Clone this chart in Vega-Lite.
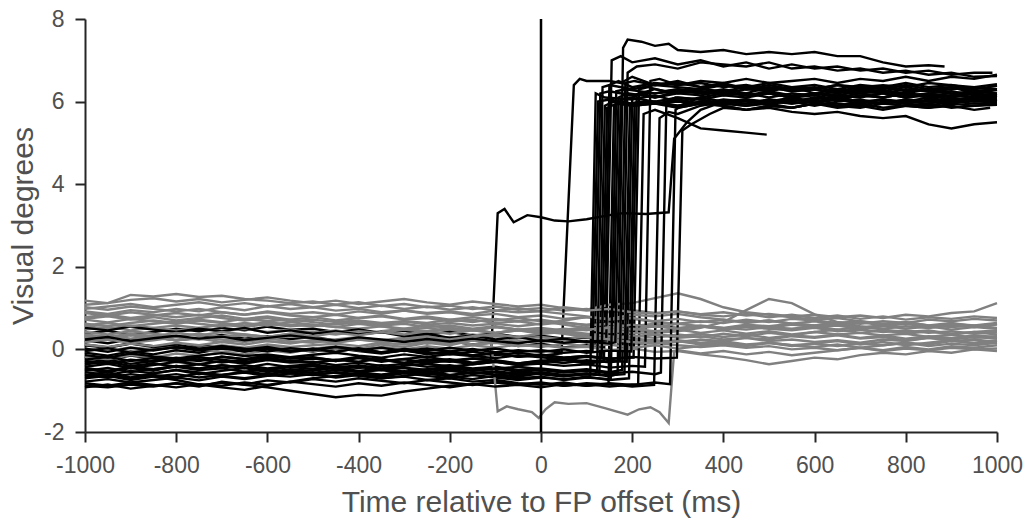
{
"$schema":"https://vega.github.io/schema/vega-lite/v6.json",
"width":912,"height":413,
"autosize":"none",
"padding":{"left":85,"top":19,"right":31,"bottom":87},
"background":"white",
"config":{"view":{"stroke":null},"font":"Liberation Sans",
"axis":{"grid":false,"domainColor":"#262626","domainWidth":2,"tickColor":"#262626","tickWidth":2,"tickSize":10,"labelFontSize":23,"labelColor":"#505050","titleFontSize":30,"titleFontWeight":"normal","titleColor":"#505050","labelFlush":false,"labelOverlap":false,"labelBound":false,"labelExpr":"toString(datum.value)"}},
"datasets":{"tr":[
{"s":"b1","c":"b","t":[-1000,-950,-900,-850,-800,-750,-700,-650,-600,-550,-500,-450,-400,-350,-300,-250,-200,-150,-110,-95,-80,-60,-30,0,30,60,100,150,180,230,280,292,320,350,400,450,500,550,600,650,700,750,800,850,900,950,1000],"v":[-0.32,-0.25,-0.35,-0.28,-0.20,-0.27,-0.18,-0.24,-0.15,-0.22,-0.19,-0.28,-0.21,-0.30,-0.23,-0.18,-0.27,-0.22,-0.25,3.3,3.4,3.08,3.25,3.2,3.12,3.1,3.15,3.25,3.3,3.28,3.32,5.1,5.5,5.8,6.0,5.95,6.05,6.0,6.1,6.05,6.15,6.1,6.2,6.1,6.15,6.2,6.1]},
{"s":"g1","c":"g","t":[-1000,-950,-900,-850,-800,-750,-700,-650,-600,-550,-500,-450,-400,-350,-300,-250,-200,-150,-100,-50,0,50,100,150,200,250,300,350,400,450,500,550,600,650,700,750,800,850,900,950,1000],"v":[1.08,1.12,1.32,1.28,1.34,1.27,1.30,1.22,1.18,1.12,1.16,1.08,1.14,1.05,1.10,1.02,1.06,0.98,1.04,0.96,1.00,0.94,0.98,0.90,0.95,0.88,0.92,0.85,0.90,0.82,0.86,0.80,0.84,0.78,0.82,0.76,0.84,0.80,0.88,0.92,1.12]},
{"s":"b2","c":"b","t":[-1000,-950,-900,-850,-800,-750,-700,-650,-600,-550,-500,-450,-400,-350,-300,-250,-200,-150,-100,-50,0,45,72,85,100,150,175,200,250,300,350,400,450,500,550,600,650,700,750,800,850,900,950,1000],"v":[0.12,0.05,0.15,0.08,0.02,0.10,0.04,-0.02,0.06,0.0,-0.05,0.03,-0.04,-0.10,-0.02,-0.08,-0.12,-0.05,-0.14,-0.08,-0.15,-0.1,6.4,6.55,6.5,6.5,6.45,6.6,6.4,6.5,6.35,6.45,6.3,6.4,6.3,6.35,6.25,6.35,6.3,6.4,6.3,6.35,6.25,6.3]},
{"s":"g2","c":"g","t":[-1000,-950,-900,-850,-800,-750,-700,-650,-600,-550,-500,-450,-400,-350,-300,-250,-200,-150,-100,-50,0,50,100,150,200,250,300,350,400,450,500,550,600,650,700,750,800,850,900,950,1000],"v":[0.92,0.86,0.95,0.90,0.98,0.92,1.02,0.95,1.05,0.98,1.02,0.94,0.98,0.90,0.94,0.86,0.90,0.82,0.86,0.78,0.82,0.74,0.78,0.70,0.74,0.66,0.62,0.68,0.64,0.72,0.66,0.74,0.70,0.64,0.68,0.60,0.66,0.58,0.64,0.56,0.62]},
{"s":"b3","c":"b","t":[-1000,-950,-900,-850,-800,-750,-700,-650,-600,-550,-500,-450,-400,-350,-300,-250,-200,-150,-100,-50,0,50,100,150,168,180,190,220,250,280,300,350,400,450,500,550,600,650,700,750,800,850,885],"v":[-0.48,-0.55,-0.45,-0.52,-0.40,-0.47,-0.38,-0.45,-0.35,-0.43,-0.40,-0.48,-0.42,-0.50,-0.45,-0.55,-0.48,-0.58,-0.52,-0.60,-0.55,-0.62,-0.58,-0.65,-0.6,7.3,7.5,7.45,7.35,7.4,7.25,7.2,7.25,7.15,7.2,7.15,7.2,7.1,7.1,6.95,6.85,6.88,6.85]},
{"s":"g3","c":"g","t":[-1000,-950,-900,-850,-800,-750,-700,-650,-600,-550,-500,-450,-400,-350,-300,-250,-200,-150,-100,-50,0,50,100,150,200,250,300,350,400,450,500,550,600,650,700,750,800,850,900,950,1000],"v":[0.72,0.65,0.74,0.68,0.62,0.70,0.64,0.58,0.66,0.60,0.56,0.62,0.66,0.60,0.68,0.64,0.72,0.66,0.74,0.68,0.72,0.64,0.60,0.66,0.56,0.62,0.52,0.56,0.48,0.54,0.50,0.46,0.52,0.44,0.48,0.42,0.46,0.40,0.44,0.38,0.42]},
{"s":"b4","c":"b","t":[-1000,-950,-900,-850,-800,-750,-700,-650,-600,-550,-500,-450,-400,-350,-300,-250,-200,-150,-100,-50,0,50,100,118,130,150,200,250,300,350,400,450,500,550,600,650,700,750,800,850,900,950,1000],"v":[0.22,0.15,0.25,0.30,0.22,0.28,0.35,0.26,0.32,0.25,0.30,0.22,0.27,0.18,0.24,0.15,0.20,0.12,0.18,0.08,0.14,0.05,0.10,0.06,6.2,6.25,6.15,6.3,6.2,6.25,6.15,6.2,6.1,6.2,6.15,6.25,6.2,6.1,6.2,6.15,6.2,6.1,6.18]},
{"s":"g4","c":"g","t":[-1000,-950,-900,-850,-800,-750,-700,-650,-600,-550,-500,-450,-400,-350,-300,-250,-200,-150,-100,-50,0,50,100,150,200,250,300,350,400,450,500,550,600,650,700,750,800,850,900,950,1000],"v":[0.48,0.54,0.46,0.52,0.58,0.52,0.60,0.54,0.62,0.56,0.60,0.54,0.50,0.56,0.48,0.52,0.44,0.48,0.40,0.46,0.38,0.42,0.34,0.38,0.30,0.36,0.28,0.32,0.24,0.28,0.20,0.24,0.18,0.22,0.16,0.24,0.20,0.28,0.24,0.30,0.26]},
{"s":"b5","c":"b","t":[-1000,-950,-900,-850,-800,-750,-700,-650,-600,-550,-500,-450,-400,-350,-300,-250,-200,-150,-100,-50,0,50,100,128,140,160,200,250,300,350,400,450,500,550,600,650,700,750,800,850,900,950,1000],"v":[-0.62,-0.55,-0.68,-0.58,-0.50,-0.60,-0.52,-0.45,-0.55,-0.48,-0.52,-0.44,-0.55,-0.50,-0.58,-0.52,-0.62,-0.55,-0.60,-0.66,-0.58,-0.64,-0.60,-0.62,5.9,6.0,5.9,5.95,5.85,5.95,5.9,5.8,5.9,5.85,5.95,5.9,5.85,5.95,5.9,5.85,5.95,5.9,5.95]},
{"s":"g5","c":"g","t":[-1000,-950,-900,-850,-800,-750,-700,-650,-600,-550,-500,-450,-400,-350,-300,-250,-200,-150,-100,-50,0,50,100,150,200,250,300,350,400,450,500,550,600,650,700,750,800,850,900,950,1000],"v":[0.28,0.34,0.26,0.30,0.22,0.26,0.18,0.24,0.20,0.16,0.22,0.18,0.24,0.20,0.28,0.22,0.30,0.26,0.32,0.28,0.30,0.24,0.28,0.20,0.24,0.18,0.22,0.16,0.20,0.12,0.16,0.10,0.14,0.08,0.14,0.10,0.16,0.12,0.20,0.16,0.22]},
{"s":"b6","c":"b","t":[-1000,-950,-900,-850,-800,-750,-700,-650,-600,-550,-500,-450,-400,-350,-300,-250,-200,-150,-100,-50,0,50,100,138,150,170,200,250,300,350,400,450,500,550,600,650,700,750,800,850,900,950,1000],"v":[-0.18,-0.25,-0.15,-0.22,-0.30,-0.24,-0.32,-0.26,-0.20,-0.28,-0.33,-0.25,-0.30,-0.22,-0.35,-0.28,-0.24,-0.32,-0.26,-0.34,-0.28,-0.22,-0.30,-0.26,6.4,6.5,6.35,6.45,6.4,6.5,6.45,6.55,6.45,6.5,6.55,6.45,6.55,6.5,6.6,6.5,6.6,6.55,6.65]},
{"s":"g6","c":"g","t":[-1000,-950,-900,-850,-800,-750,-700,-650,-600,-550,-500,-450,-400,-350,-300,-250,-200,-150,-100,-50,0,50,100,150,200,250,300,350,400,450,500,550,600,650,700,750,800,850,900,950,1000],"v":[0.02,-0.04,0.05,0.0,0.08,0.03,0.10,0.04,0.12,0.06,0.10,0.14,0.08,0.16,0.12,0.18,0.14,0.22,0.16,0.20,0.18,0.24,0.16,0.20,0.12,0.16,0.10,0.06,0.10,0.04,0.08,0.0,0.04,-0.02,0.04,-0.04,0.02,-0.02,0.04,0.0,0.02]},
{"s":"b7","c":"b","t":[-1000,-950,-900,-850,-800,-750,-700,-650,-600,-550,-500,-450,-400,-350,-300,-250,-200,-150,-100,-50,0,50,100,148,160,180,200,250,300,350,400,450,500,550,600,650,700,750,800,850,900,950,1000],"v":[-0.92,-0.85,-0.95,-0.88,-0.82,-0.90,-0.78,-0.85,-0.75,-0.80,-0.72,-0.78,-0.70,-0.76,-0.82,-0.74,-0.80,-0.86,-0.78,-0.84,-0.80,-0.88,-0.82,-0.85,5.9,6.0,5.9,6.0,5.85,5.95,5.9,5.8,5.85,5.75,5.7,5.75,5.65,5.6,5.65,5.45,5.35,5.45,5.5]},
{"s":"g7","c":"g","t":[-1000,-950,-900,-850,-800,-750,-700,-650,-600,-550,-500,-450,-400,-350,-300,-250,-200,-150,-100,-50,0,50,100,150,200,250,300,350,400,450,500,550,600,650,700,750,800,850,900,950,1000],"v":[0.78,0.84,0.76,0.82,0.88,0.82,0.90,0.84,0.92,0.86,0.90,0.84,0.92,0.86,0.94,0.88,0.92,0.86,0.94,0.90,0.92,1.02,0.96,1.08,1.12,1.24,1.36,1.22,1.02,0.90,0.84,0.78,0.72,0.76,0.68,0.62,0.66,0.58,0.54,0.58,0.52]},
{"s":"b8","c":"b","t":[-1000,-950,-900,-850,-800,-750,-700,-650,-600,-550,-500,-450,-400,-350,-300,-250,-200,-150,-100,-50,0,50,100,150,158,170,190,250,300,350,400,450,500,550,600,650,700,750,800,850,900,950,1000],"v":[0.38,0.45,0.35,0.42,0.50,0.44,0.52,0.46,0.55,0.48,0.50,0.42,0.48,0.40,0.45,0.36,0.42,0.34,0.38,0.30,0.33,0.26,0.30,0.25,0.28,6.1,6.2,6.1,6.2,6.15,6.25,6.15,6.2,6.1,6.2,6.15,6.25,6.2,6.1,6.2,6.25,6.15,6.2]},
{"s":"g8","c":"g","t":[-1000,-950,-900,-850,-800,-750,-700,-650,-600,-550,-500,-450,-400,-350,-300,-250,-200,-150,-100,-50,0,50,100,150,200,250,300,350,400,450,500,550,600,650,700,750,800,850,900,950,1000],"v":[0.62,0.56,0.64,0.70,0.64,0.72,0.66,0.74,0.68,0.72,0.66,0.60,0.66,0.58,0.62,0.54,0.58,0.50,0.56,0.48,0.52,0.46,0.50,0.42,0.46,0.40,0.44,0.52,0.66,0.95,1.22,1.12,0.85,0.66,0.56,0.48,0.42,0.46,0.38,0.42,0.36]},
{"s":"b9","c":"b","t":[-1000,-950,-900,-850,-800,-750,-700,-650,-600,-550,-500,-450,-400,-350,-300,-250,-200,-150,-100,-50,0,50,100,150,178,190,210,250,300,350,400,450,500,550,600,650,700,750,800,850,900,950,1000],"v":[-0.42,-0.35,-0.45,-0.38,-0.30,-0.36,-0.28,-0.34,-0.26,-0.32,-0.30,-0.38,-0.32,-0.40,-0.35,-0.42,-0.38,-0.46,-0.42,-0.50,-0.46,-0.52,-0.48,-0.55,-0.5,6.7,6.85,6.9,6.8,6.95,6.9,6.85,6.95,6.8,6.85,6.75,6.8,6.7,6.75,6.65,6.7,6.6,6.62]},
{"s":"g9","c":"g","t":[-1000,-950,-900,-850,-800,-750,-700,-650,-600,-550,-500,-450,-400,-350,-300,-250,-200,-150,-100,-50,0,50,100,150,200,250,300,350,400,450,500,550,600,650,700,750,800,850,900,950,1000],"v":[1.02,0.96,1.04,0.98,0.92,0.98,0.90,0.84,0.90,0.82,0.78,0.84,0.76,0.80,0.72,0.76,0.68,0.72,0.64,0.68,0.60,0.66,0.58,0.62,0.54,0.58,0.50,0.56,0.52,0.60,0.56,0.62,0.58,0.66,0.62,0.68,0.64,0.72,0.68,0.74,0.70]},
{"s":"b10","c":"b","t":[-1000,-950,-900,-850,-800,-750,-700,-650,-600,-550,-500,-450,-400,-350,-300,-250,-200,-150,-100,-50,0,50,100,150,193,205,225,250,300,350,400,450,500,550,600,650,700,750,800,850,900,950,1000],"v":[-0.70,-0.64,-0.74,-0.66,-0.60,-0.68,-0.62,-0.56,-0.64,-0.58,-0.62,-0.55,-0.60,-0.66,-0.58,-0.64,-0.70,-0.62,-0.68,-0.74,-0.68,-0.72,-0.66,-0.74,-0.7,5.9,6.0,5.95,6.05,5.95,6.0,6.05,5.95,6.0,5.9,6.0,6.05,5.95,6.0,5.95,6.05,6.0,6.02]},
{"s":"g10","c":"g","t":[-1000,-950,-900,-850,-800,-750,-700,-650,-600,-550,-500,-450,-400,-350,-300,-250,-200,-150,-100,-50,0,50,100,150,200,250,300,350,400,450,500,550,600,650,700,750,800,850,900,950,1000],"v":[0.18,0.24,0.16,0.22,0.30,0.24,0.32,0.36,0.30,0.38,0.42,0.36,0.44,0.40,0.48,0.42,0.50,0.46,0.54,0.48,0.50,0.44,0.38,0.32,0.26,0.22,0.18,0.24,0.20,0.28,0.24,0.32,0.28,0.34,0.26,0.30,0.22,0.28,0.20,0.24,0.18]},
{"s":"b11","c":"b","t":[-1000,-950,-900,-850,-800,-750,-700,-650,-600,-550,-500,-450,-400,-350,-300,-250,-200,-150,-100,-50,0,50,100,150,203,215,235,270,300,350,400,450,500,550,600,650,700,750,800,850,900,950,1000],"v":[-0.08,-0.15,-0.05,-0.12,-0.02,-0.08,0.02,-0.05,0.04,-0.03,0.0,-0.06,0.03,-0.08,-0.02,-0.12,-0.06,-0.15,-0.10,-0.18,-0.14,-0.20,-0.16,-0.22,-0.2,6.3,6.35,6.25,6.3,6.2,6.25,6.15,6.2,6.1,6.2,6.15,6.1,6.2,6.1,6.15,6.05,6.1,6.08]},
{"s":"g11","c":"g","t":[-1000,-950,-900,-850,-800,-750,-700,-650,-600,-550,-500,-450,-400,-350,-300,-250,-200,-150,-100,-50,0,50,100,150,200,250,300,350,400,450,500,550,600,650,700,750,800,850,900,950,1000],"v":[0.42,0.36,0.44,0.38,0.32,0.38,0.30,0.34,0.26,0.32,0.28,0.22,0.28,0.20,0.24,0.16,0.20,0.12,0.16,0.08,0.10,0.04,0.06,-0.02,0.02,-0.06,-0.04,-0.12,-0.18,-0.26,-0.36,-0.28,-0.20,-0.24,-0.14,-0.08,-0.12,-0.04,-0.08,0.0,-0.04]},
{"s":"b12","c":"b","t":[-1000,-950,-900,-850,-800,-750,-700,-650,-600,-550,-500,-450,-400,-350,-300,-250,-200,-150,-100,-50,0,50,100,150,200,213,225,250,300,350,400,450,495],"v":[-0.88,-0.92,-0.85,-0.90,-0.82,-0.88,-0.80,-0.86,-0.92,-1.0,-1.08,-1.16,-1.1,-1.12,-1.02,-0.95,-0.88,-0.84,-0.80,-0.86,-0.82,-0.88,-0.84,-0.90,-0.85,-0.86,5.7,5.8,5.6,5.35,5.3,5.25,5.2]},
{"s":"g12","c":"g","t":[-1000,-950,-900,-850,-800,-750,-700,-650,-600,-550,-500,-450,-400,-350,-300,-250,-200,-150,-100,-50,0,50,100,150,200,250,300,350,400,450,500,550,600,650,700,750,800,850,900,950,1000],"v":[-0.18,-0.24,-0.14,-0.20,-0.10,-0.16,-0.06,-0.12,-0.02,-0.08,0.02,0.08,0.02,0.12,0.06,0.16,0.10,0.22,0.16,0.26,0.30,0.24,0.32,0.26,0.34,0.28,0.36,0.30,0.38,0.32,0.40,0.34,0.42,0.36,0.40,0.34,0.38,0.30,0.36,0.28,0.32]},
{"s":"b13","c":"b","t":[-1000,-950,-900,-850,-800,-750,-700,-650,-600,-550,-500,-450,-400,-350,-300,-250,-200,-150,-100,-50,0,50,100,150,200,228,240,260,300,350,400,450,500,550,600,650,700,750,800,850,900,950,1000],"v":[-0.28,-0.34,-0.25,-0.30,-0.22,-0.28,-0.18,-0.24,-0.16,-0.22,-0.20,-0.26,-0.18,-0.28,-0.24,-0.32,-0.28,-0.36,-0.30,-0.38,-0.34,-0.40,-0.36,-0.44,-0.40,-0.42,6.5,6.55,6.4,6.45,6.35,6.4,6.3,6.35,6.3,6.4,6.3,6.35,6.25,6.3,6.35,6.25,6.3]},
{"s":"g13","c":"g","t":[-1000,-950,-900,-850,-800,-750,-700,-650,-600,-550,-500,-450,-400,-350,-300,-250,-200,-150,-100,-50,0,50,100,150,200,250,300,350,400,450,500,550,600,650,700,750,800,850,900,950,1000],"v":[0.88,0.82,0.90,0.84,0.78,0.84,0.76,0.70,0.76,0.68,0.72,0.66,0.70,0.64,0.68,0.60,0.64,0.58,0.62,0.56,0.62,0.70,0.78,0.74,0.84,0.80,0.86,0.78,0.72,0.66,0.70,0.62,0.58,0.62,0.54,0.58,0.50,0.56,0.48,0.54,0.50]},
{"s":"b14","c":"b","t":[-1000,-950,-900,-850,-800,-750,-700,-650,-600,-550,-500,-450,-400,-350,-300,-250,-200,-150,-100,-50,0,50,100,150,200,248,260,280,300,350,400,450,500,550,600,650,700,750,800,850,900,950,1000],"v":[-0.78,-0.72,-0.80,-0.74,-0.68,-0.75,-0.66,-0.72,-0.64,-0.58,-0.62,-0.56,-0.64,-0.70,-0.66,-0.74,-0.70,-0.78,-0.74,-0.82,-0.86,-0.80,-0.88,-0.84,-0.90,-0.86,5.6,5.75,5.7,5.9,6.0,5.95,6.05,5.95,6.0,5.9,6.0,5.95,6.05,6.0,5.95,6.05,6.0]},
{"s":"g14","c":"g","t":[-1000,-950,-900,-850,-800,-750,-700,-650,-600,-550,-500,-450,-400,-350,-300,-250,-200,-150,-110,-95,-75,-50,-20,-5,10,30,60,100,140,190,215,240,260,280,292,300,350,400,450,500,550,600,650,700,750,800,850,900,950,1000],"v":[0.32,0.26,0.34,0.28,0.22,0.30,0.24,0.18,0.26,0.20,0.16,0.24,0.30,0.22,0.28,0.34,0.28,0.36,0.30,-1.5,-1.38,-1.45,-1.52,-1.66,-1.45,-1.28,-1.32,-1.30,-1.42,-1.58,-1.45,-1.40,-1.52,-1.78,-0.05,-0.02,-0.10,-0.04,-0.12,-0.06,-0.14,-0.08,-0.02,0.04,-0.02,0.06,0.0,0.08,0.04,0.10]},
{"s":"b15","c":"b","t":[-1000,-950,-900,-850,-800,-750,-700,-650,-600,-550,-500,-450,-400,-350,-300,-250,-200,-150,-100,-50,0,50,100,150,200,250,263,275,295,350,400,450,500,550,600,650,700,750,800,850,900,950,1000],"v":[-0.52,-0.45,-0.55,-0.48,-0.42,-0.50,-0.46,-0.54,-0.48,-0.56,-0.50,-0.44,-0.52,-0.46,-0.54,-0.48,-0.42,-0.50,-0.46,-0.54,-0.50,-0.56,-0.52,-0.58,-0.54,-0.60,-0.56,6.0,6.1,6.05,6.15,6.1,6.2,6.1,6.15,6.05,6.15,6.1,6.2,6.1,6.15,6.1,6.12]},
{"s":"g15","c":"g","t":[-1000,-950,-900,-850,-800,-750,-700,-650,-600,-550,-500,-450,-400,-350,-300,-250,-200,-150,-100,-50,0,50,100,150,200,250,300,350,400,450,500,550,600,650,700,750,800,850,900,950,1000],"v":[0.56,0.50,0.58,0.52,0.46,0.52,0.44,0.50,0.42,0.48,0.40,0.46,0.38,0.44,0.50,0.44,0.52,0.46,0.40,0.46,0.42,0.48,0.54,0.46,0.50,0.44,0.48,0.40,0.46,0.38,0.44,0.36,0.42,0.48,0.40,0.46,0.38,0.44,0.36,0.42,0.46]},
{"s":"b16","c":"b","t":[-1000,-950,-900,-850,-800,-750,-700,-650,-600,-550,-500,-450,-400,-350,-300,-250,-200,-150,-100,-50,0,50,100,150,200,250,283,295,315,350,400,450,500,550,600,650,700,750,800,850,900,950,1000],"v":[-0.82,-0.88,-0.80,-0.86,-0.92,-0.84,-0.88,-0.80,-0.86,-0.78,-0.84,-0.90,-0.82,-0.88,-0.80,-0.86,-0.92,-0.84,-0.90,-0.86,-0.92,-0.84,-0.88,-0.82,-0.86,-0.80,-0.84,5.8,5.95,6.1,6.2,6.15,6.25,6.15,6.2,6.1,6.2,6.25,6.15,6.2,6.1,6.2,6.15]},
{"s":"g16","c":"g","t":[-1000,-950,-900,-850,-800,-750,-700,-650,-600,-550,-500,-450,-400,-350,-300,-250,-200,-150,-100,-50,0,50,100,150,200,250,300,350,400,450,500,550,600,650,700,750,800,850,900,950,1000],"v":[-0.04,0.02,-0.06,0.0,0.06,0.0,-0.06,0.02,0.08,0.02,-0.04,0.04,-0.02,0.06,0.0,0.08,0.02,0.10,0.04,0.12,0.06,0.14,0.08,0.12,0.04,0.10,0.02,0.08,0.14,0.08,0.16,0.10,0.06,0.12,0.04,0.10,0.16,0.08,0.14,0.10,0.16]},
{"s":"b17","c":"b","t":[-1000,-950,-900,-850,-800,-750,-700,-650,-600,-550,-500,-450,-400,-350,-300,-250,-200,-150,-100,-50,0,50,100,150,200,250,298,310,330,370,400,450,500,550,600,650,700,750,800,850,900,950,985],"v":[0.10,0.04,0.14,0.06,0.12,0.02,0.08,0.0,0.06,-0.04,0.02,-0.06,0.03,-0.08,-0.02,-0.10,-0.05,-0.14,-0.08,-0.18,-0.12,-0.20,-0.16,-0.24,-0.18,-0.22,-0.2,5.3,5.45,5.7,5.85,5.8,5.9,5.85,5.95,5.85,5.9,5.8,5.9,5.85,5.9,5.8,5.85]},
{"s":"g17","c":"g","t":[-1000,-950,-900,-850,-800,-750,-700,-650,-600,-550,-500,-450,-400,-350,-300,-250,-200,-150,-100,-50,0,50,100,150,200,250,300,350,400,450,500,550,600,650,700,750,800,850,900,950,1000],"v":[0.74,0.80,0.72,0.78,0.70,0.76,0.82,0.74,0.80,0.72,0.78,0.70,0.76,0.82,0.74,0.80,0.72,0.78,0.70,0.76,0.68,0.60,0.52,0.46,0.40,0.36,0.32,0.38,0.30,0.36,0.28,0.34,0.30,0.36,0.28,0.34,0.26,0.32,0.28,0.34,0.30]},
{"s":"b18","c":"b","t":[-1000,-950,-900,-850,-800,-750,-700,-650,-600,-550,-500,-450,-400,-350,-300,-250,-200,-150,-100,-50,0,50,100,108,120,140,200,250,300,350,400,450,500,550,600,650,700,750,800,850,900,950,1000],"v":[-0.62,-0.68,-0.60,-0.66,-0.74,-0.85,-0.92,-0.98,-0.88,-0.78,-0.70,-0.64,-0.58,-0.62,-0.55,-0.60,-0.52,-0.58,-0.54,-0.62,-0.56,-0.64,-0.60,-0.62,6.2,6.1,6.05,6.15,6.0,6.1,6.0,6.05,5.95,6.05,6.0,6.1,6.0,5.95,6.05,6.0,6.1,6.0,6.05]},
{"s":"g18","c":"g","t":[-1000,-950,-900,-850,-800,-750,-700,-650,-600,-550,-500,-450,-400,-350,-300,-250,-200,-150,-100,-50,0,50,100,150,200,250,300,350,400,450,500,550,600,650,700,750,800,850,900,950,1000],"v":[0.98,1.04,1.10,1.02,1.08,1.14,1.06,1.12,1.04,1.10,1.02,1.08,1.00,1.06,0.98,1.04,0.96,1.02,0.94,1.00,0.92,0.86,0.80,0.72,0.76,0.68,0.74,0.66,0.72,0.64,0.70,0.62,0.68,0.60,0.66,0.58,0.64,0.56,0.62,0.58,0.64]},
{"s":"b19","c":"b","t":[-1000,-950,-900,-850,-800,-750,-700,-650,-600,-550,-500,-450,-400,-350,-300,-250,-200,-150,-100,-50,0,50,100,143,155,175,200,250,300,350,400,450,500,550,600,650,700,750,800,850,900,950,990],"v":[0.52,0.46,0.55,0.48,0.42,0.50,0.44,0.52,0.40,0.46,0.38,0.44,0.36,0.42,0.32,0.38,0.28,0.34,0.24,0.30,0.20,0.26,0.18,0.22,7.0,7.1,6.95,7.05,6.9,7.0,6.85,6.95,6.8,6.9,6.8,6.85,6.75,6.8,6.7,6.75,6.65,6.7,6.7]},
{"s":"g19","c":"g","t":[-1000,-950,-900,-850,-800,-750,-700,-650,-600,-550,-500,-450,-400,-350,-300,-250,-200,-150,-100,-50,0,50,100,150,200,250,300,350,400,450,500,550,600,650,700,750,800,850,900,950,1000],"v":[0.36,0.30,0.38,0.32,0.40,0.34,0.42,0.36,0.30,0.38,0.32,0.40,0.34,0.42,0.36,0.44,0.38,0.46,0.40,0.48,0.42,0.50,0.46,0.54,0.48,0.56,0.50,0.58,0.52,0.48,0.54,0.50,0.56,0.48,0.54,0.50,0.56,0.52,0.58,0.54,0.60]},
{"s":"b20","c":"b","t":[-1000,-950,-900,-850,-800,-750,-700,-650,-600,-550,-500,-450,-400,-350,-300,-250,-200,-150,-100,-50,0,50,100,150,188,200,220,250,300,350,400,450,500,550,600,650,700,750,800,850,900,950,1000],"v":[-0.36,-0.30,-0.40,-0.34,-0.42,-0.36,-0.44,-0.38,-0.46,-0.40,-0.36,-0.44,-0.38,-0.46,-0.40,-0.34,-0.42,-0.36,-0.30,-0.38,-0.32,-0.26,-0.34,-0.28,-0.3,6.1,6.2,6.1,6.25,6.2,6.3,6.2,6.35,6.25,6.3,6.2,6.3,6.25,6.35,6.25,6.3,6.35,6.3]},
{"s":"g20","c":"g","t":[-1000,-950,-900,-850,-800,-750,-700,-650,-600,-550,-500,-450,-400,-350,-300,-250,-200,-150,-100,-50,0,50,100,150,200,250,300,350,400,450,500,550,600,650,700,750,800,850,900,950,1000],"v":[0.58,0.64,0.56,0.62,0.68,0.62,0.56,0.64,0.58,0.66,0.60,0.54,0.62,0.56,0.50,0.58,0.52,0.46,0.54,0.48,0.44,0.38,0.30,0.24,0.18,0.14,0.20,0.12,0.18,0.10,0.16,0.08,0.14,0.20,0.12,0.18,0.10,0.16,0.22,0.14,0.20]},
{"s":"b21","c":"b","t":[-1000,-950,-900,-850,-800,-750,-700,-650,-600,-550,-500,-450,-400,-350,-300,-250,-200,-150,-100,-50,0,50,100,113,125,150,200,250,300,350,400,450,500,550,600,650,700,750,800,850,900,950,1000],"v":[0.02,-0.06,0.04,-0.03,0.06,0.0,0.08,0.02,-0.05,0.03,-0.02,0.06,0.0,-0.07,0.01,-0.04,0.04,-0.03,0.02,-0.06,-0.02,-0.08,-0.04,-0.05,6.0,6.05,5.95,6.0,5.9,6.0,5.95,5.9,5.95,5.85,5.95,5.9,5.95,5.85,5.9,5.95,5.85,5.9,5.92]},
{"s":"g21","c":"g","t":[-1000,-950,-900,-850,-800,-750,-700,-650,-600,-550,-500,-450,-400,-350,-300,-250,-200,-150,-100,-50,0,50,100,150,200,250,300,350,400,450,500,550,600,650,700,750,800,850,900,950,1000],"v":[0.12,0.06,0.14,0.08,0.16,0.10,0.18,0.12,0.20,0.14,0.22,0.16,0.24,0.18,0.26,0.30,0.24,0.32,0.36,0.30,0.38,0.44,0.48,0.52,0.60,0.54,0.62,0.56,0.50,0.58,0.52,0.60,0.54,0.58,0.50,0.56,0.62,0.54,0.60,0.56,0.62]},
{"s":"b22","c":"b","t":[-1000,-950,-900,-850,-800,-750,-700,-650,-600,-550,-500,-450,-400,-350,-300,-250,-200,-150,-100,-50,0,50,100,123,135,150,200,250,300,350,400,450,500,550,600,650,700,750,800,850,900,950,1000],"v":[-0.45,-0.52,-0.42,-0.48,-0.40,-0.46,-0.38,-0.44,-0.50,-0.43,-0.47,-0.40,-0.45,-0.38,-0.44,-0.50,-0.46,-0.52,-0.47,-0.42,-0.48,-0.54,-0.50,-0.52,6.35,6.4,6.3,6.4,6.35,6.3,6.4,6.35,6.45,6.35,6.4,6.3,6.4,6.35,6.45,6.35,6.4,6.3,6.38]},
{"s":"g22","c":"g","t":[-1000,-950,-900,-850,-800,-750,-700,-650,-600,-550,-500,-450,-400,-350,-300,-250,-200,-150,-100,-50,0,50,100,150,200,250,300,350,400,450,500,550,600,650,700,750,800,850,900,950,1000],"v":[1.18,1.12,1.20,1.24,1.16,1.22,1.14,1.20,1.26,1.18,1.12,1.18,1.10,1.16,1.22,1.14,1.08,1.16,1.10,1.04,1.08,1.00,0.94,0.98,0.90,0.86,0.92,0.84,0.80,0.86,0.78,0.84,0.76,0.82,0.74,0.80,0.72,0.78,0.74,0.80,0.76]},
{"s":"b23","c":"b","t":[-1000,-950,-900,-850,-800,-750,-700,-650,-600,-550,-500,-450,-400,-350,-300,-250,-200,-150,-100,-50,0,50,100,133,145,165,200,250,300,350,400,450,500,550,600,650,700,750,800,850,900,950,1000],"v":[-0.14,-0.20,-0.10,-0.17,-0.22,-0.15,-0.09,-0.16,-0.12,-0.19,-0.13,-0.08,-0.15,-0.20,-0.12,-0.18,-0.11,-0.16,-0.21,-0.14,-0.19,-0.24,-0.18,-0.2,5.85,5.95,5.9,5.95,6.0,5.95,6.05,6.0,5.95,6.05,6.0,6.1,6.0,6.05,5.95,6.05,6.0,6.08,6.02]},
{"s":"b24","c":"b","t":[-1000,-950,-900,-850,-800,-750,-700,-650,-600,-550,-500,-450,-400,-350,-300,-250,-200,-150,-100,-50,0,50,100,150,153,165,185,250,300,350,400,450,500,550,600,650,700,750,800,850,900,950,1000],"v":[-0.66,-0.60,-0.70,-0.62,-0.68,-0.58,-0.64,-0.70,-0.62,-0.66,-0.60,-0.68,-0.62,-0.70,-0.64,-0.58,-0.66,-0.72,-0.64,-0.70,-0.66,-0.74,-0.68,-0.72,-0.7,6.25,6.3,6.2,6.3,6.25,6.2,6.3,6.25,6.35,6.2,6.3,6.25,6.2,6.3,6.25,6.35,6.2,6.28]},
{"s":"b25","c":"b","t":[-1000,-950,-900,-850,-800,-750,-700,-650,-600,-550,-500,-450,-400,-350,-300,-250,-200,-150,-100,-50,0,50,100,150,163,175,195,250,300,350,400,450,500,550,600,650,700,750,800,850,900,950,1000],"v":[0.24,0.30,0.20,0.27,0.33,0.26,0.31,0.22,0.28,0.34,0.27,0.21,0.29,0.24,0.18,0.25,0.19,0.26,0.20,0.15,0.22,0.16,0.20,0.14,0.17,6.05,6.1,6.0,6.1,6.05,5.95,6.05,6.0,6.1,6.0,6.05,5.95,6.05,6.0,6.1,6.0,6.05,6.0]},
{"s":"b26","c":"b","t":[-1000,-950,-900,-850,-800,-750,-700,-650,-600,-550,-500,-450,-400,-350,-300,-250,-200,-150,-100,-50,0,50,100,150,173,185,205,250,300,350,400,450,500,550,600,650,700,750,800,850,900,950,1000],"v":[-0.25,-0.18,-0.28,-0.21,-0.27,-0.19,-0.25,-0.31,-0.23,-0.29,-0.22,-0.28,-0.20,-0.26,-0.32,-0.24,-0.30,-0.22,-0.28,-0.34,-0.27,-0.33,-0.26,-0.31,-0.28,6.45,6.5,6.4,6.45,6.35,6.4,6.3,6.35,6.25,6.3,6.2,6.3,6.25,6.2,6.3,6.2,6.25,6.2]},
{"s":"b27","c":"b","t":[-1000,-950,-900,-850,-800,-750,-700,-650,-600,-550,-500,-450,-400,-350,-300,-250,-200,-150,-100,-50,0,50,100,150,183,195,215,250,300,350,400,450,500,550,600,650,700,750,800,850,900,950,1000],"v":[-0.55,-0.62,-0.52,-0.58,-0.50,-0.56,-0.62,-0.54,-0.60,-0.52,-0.57,-0.50,-0.55,-0.61,-0.53,-0.58,-0.64,-0.56,-0.61,-0.55,-0.60,-0.66,-0.58,-0.63,-0.6,5.95,6.0,5.95,5.9,6.0,5.95,5.9,6.0,5.95,6.05,5.95,5.9,6.0,5.95,5.9,6.0,5.95,5.98]},
{"s":"b28","c":"b","t":[-1000,-950,-900,-850,-800,-750,-700,-650,-600,-550,-500,-450,-400,-350,-300,-250,-200,-150,-100,-50,0,50,100,150,198,210,230,250,300,350,400,450,500,550,600,650,700,750,800,850,900,950,1000],"v":[-0.04,0.03,-0.08,-0.01,0.05,-0.03,0.04,-0.05,0.02,-0.06,0.0,0.06,-0.02,0.04,-0.04,0.02,-0.05,0.01,-0.07,-0.02,-0.06,0.0,-0.08,-0.03,-0.05,6.15,6.2,6.2,6.25,6.3,6.25,6.35,6.3,6.35,6.3,6.4,6.35,6.4,6.35,6.45,6.4,6.35,6.42]}
]},
"layer":[
{"data":{"name":"tr"},
 "transform":[{"flatten":["t","v"]}],
 "mark":{"type":"line","strokeWidth":2.4},
 "encoding":{
  "x":{"field":"t","type":"quantitative","scale":{"domain":[-1000,1000]},"title":"Time relative to FP offset (ms)","axis":{"values":[-1000,-800,-600,-400,-200,0,200,400,600,800,1000],"labelPadding":12,"titlePadding":10}},
  "y":{"field":"v","type":"quantitative","scale":{"domain":[-2,8]},"title":"Visual degrees","axis":{"values":[-2,0,2,4,6,8],"labelPadding":11,"titlePadding":5}},
  "color":{"field":"c","type":"nominal","scale":{"domain":["b","g"],"range":["#000000","#808080"]},"legend":null},
  "detail":{"field":"s"}}},
{"data":{"values":[{"t":0}]},
 "mark":{"type":"rule","strokeWidth":2.5,"color":"#000000"},
 "encoding":{"x":{"field":"t","type":"quantitative","title":"Time relative to FP offset (ms)"}}}
]
}
